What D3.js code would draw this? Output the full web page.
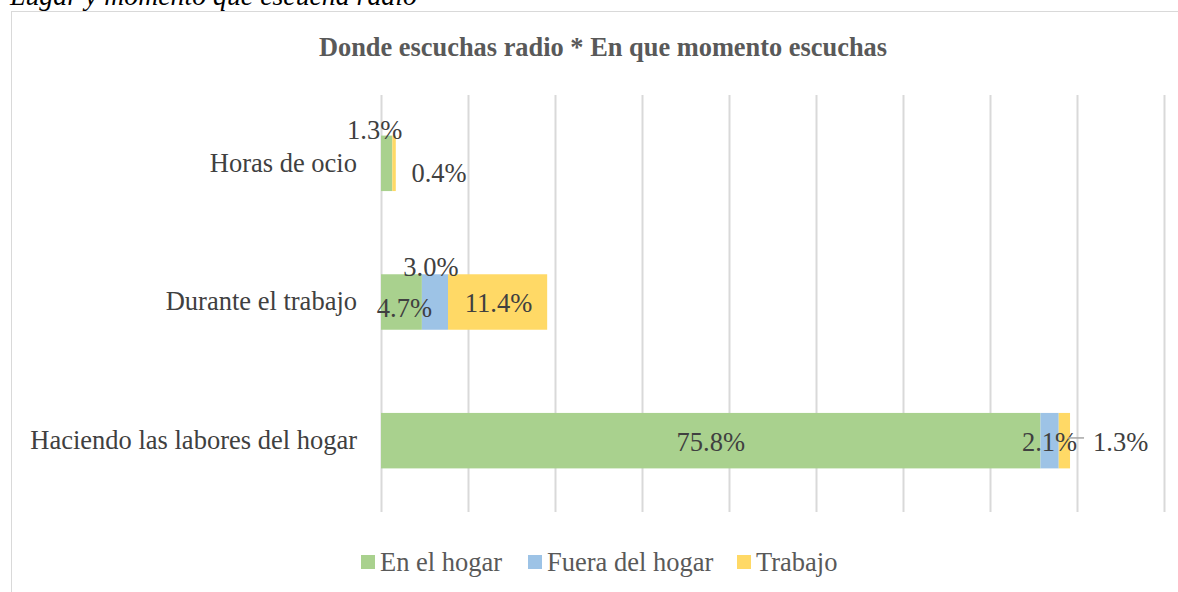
<!DOCTYPE html>
<html><head><meta charset="utf-8">
<script src="https://cdn.jsdelivr.net/npm/d3@7"></script>
<style>body{margin:0;background:#fff}svg{display:block}</style>
</head><body>
<svg id="c" width="1178" height="592"></svg>
<script>
const categories = ["Horas de ocio", "Durante el trabajo", "Haciendo las labores del hogar"];
const seriesNames = ["En el hogar", "Fuera del hogar", "Trabajo"];
const enElHogar = [1.3, 4.7, 75.8];
const fueraDelHogar = [0, 3.0, 2.1];
const trabajo = [0.4, 11.4, 1.3];
const gridTicks = [0, 10, 20, 30, 40, 50, 60, 70, 80, 90];
const colors = ["#A9D18E", "#9DC3E6", "#FFD966"];

const svg = d3.select("#c");
const font = "'Liberation Serif', 'Times New Roman', serif";
const fs = 26.5;

// page heading (cut off at top)
svg.append("text").attr("x", 10).attr("y", 5).attr("font-family", font)
  .attr("font-style", "italic").attr("font-size", 27.8).attr("fill", "#000")
  .text("Lugar y momento que escucha radio");

// chart frame
svg.append("rect").attr("x", 11.5).attr("y", 11.5).attr("width", 1300).attr("height", 700)
  .attr("fill", "none").attr("stroke", "#d9d9d9");

svg.append("text").attr("x", 603).attr("y", 56).attr("text-anchor", "middle")
  .attr("font-family", font).attr("font-weight", "bold").attr("font-size", 26.4)
  .attr("fill", "#595959").text("Donde escuchas radio * En que momento escuchas");

const x = d3.scaleLinear().domain([0, 90]).range([381, 1164]);
const y = d3.scaleBand().domain(categories).range([94, 510]).paddingInner(0.6).paddingOuter(0.3);

// gridlines
const xAxis = d3.axisBottom(x).tickValues(gridTicks).tickSize(-(512 - 95)).tickFormat("");
const gx = svg.append("g").attr("transform", "translate(0,512)").call(xAxis);
gx.select(".domain").remove();
gx.selectAll("line").attr("stroke", "#d9d9d9").attr("stroke-width", 2);

// category axis
const yAxis = d3.axisLeft(y).tickSize(0).tickPadding(24);
const gy = svg.append("g").attr("transform", "translate(381,0)").call(yAxis);
gy.select(".domain").remove();
gy.selectAll("text").attr("font-family", font).attr("font-size", fs).attr("fill", "#404040");

const rows = categories.map((c, i) => ({cat: c, "En el hogar": enElHogar[i], "Fuera del hogar": fueraDelHogar[i], "Trabajo": trabajo[i]}));
const stack = d3.stack().keys(seriesNames)(rows);

svg.append("g").selectAll("g").data(stack).join("g").attr("fill", (d, i) => colors[i])
  .selectAll("rect").data(d => d).join("rect")
  .attr("x", d => x(d[0])).attr("width", d => x(d[1]) - x(d[0]))
  .attr("y", d => y(d.data.cat)).attr("height", y.bandwidth());

// data labels: [seriesIndex, categoryIndex, dx, dy(baseline relative to band top), anchor]
const labelPlacement = [
  [0, 0, -12, 3, "middle"],
  [2, 0, 45, 46, "middle"],
  [0, 1, 3, 43, "middle"],
  [1, 1, -4, 2, "middle"],
  [2, 1, 1, 38, "middle"],
  [0, 2, 0, 38, "middle"],
  [1, 2, 0, 38, "middle"],
  [2, 2, 23, 38, "start"]
];
const lg = svg.append("g");
labelPlacement.forEach(([s, c, dx, dy, anchor]) => {
  const d = stack[s][c];
  const cx = anchor === "start" ? x(d[1]) + dx : (x(d[0]) + x(d[1])) / 2 + dx;
  const val = d[1] - d[0];
  if (anchor === "start") {
    lg.append("line").attr("x1", x(d[1]) - 2).attr("x2", x(d[1]) + dx - 9)
      .attr("y1", y(categories[c]) + 25).attr("y2", y(categories[c]) + 25)
      .attr("stroke", "#a6a6a6").attr("stroke-width", 1.5);
  }
  lg.append("text").attr("x", cx).attr("y", y(categories[c]) + dy)
    .attr("text-anchor", anchor).attr("font-family", font).attr("font-size", fs)
    .attr("fill", "#404040").text(val.toFixed(1) + "%");
});

// legend
const legX = [361, 528, 737];
const leg = svg.append("g");
seriesNames.forEach((n, i) => {
  leg.append("rect").attr("x", legX[i]).attr("y", 555).attr("width", 14).attr("height", 14).attr("fill", colors[i]);
  leg.append("text").attr("x", legX[i] + 19).attr("y", 571).attr("font-family", font)
    .attr("font-size", fs).attr("fill", "#595959").text(n);
});
</script>
</body></html>
